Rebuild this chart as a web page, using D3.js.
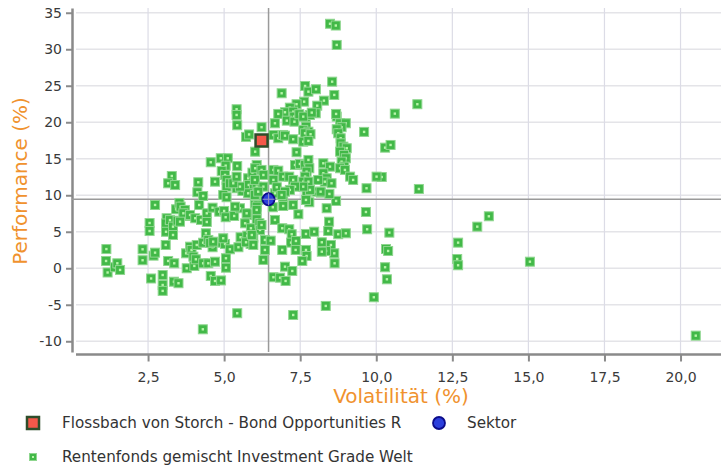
<!DOCTYPE html>
<html>
<head>
<meta charset="utf-8">
<script src="https://cdn.jsdelivr.net/npm/d3@7"></script>
<style>
body { margin: 0; background: #fff; }
text { font-family: "DejaVu Sans", Verdana, sans-serif; }
</style>
</head>
<body>
<div id="chart"></div>
<script>
// peer group (volatility %, performance %)
var peerVol = [
  1.13,1.12,1.17,1.41,1.49,1.58,2.32,2.32,2.55,2.55,2.6,2.68,2.73,2.73,
  2.98,2.98,2.98,3.08,3.16,3.36,3.35,3.5,3.11,3.09,3.09,3.22,3.32,3.32,3.42,3.47,3.53,3.57,3.71,3.82,3.28,3.16,3.39,3.66,3.88,3.55,
  3.77,4.02,3.75,3.88,3.93,3.99,4.1,4.07,4.05,4.15,4.12,4.18,4.31,
  4.24,4.43,4.43,4.62,4.84,5.0,5.05,4.31,4.4,4.48,4.31,4.48,4.7,4.62,4.54,4.56,4.7,4.9,4.94,5.03,5.06,5.06,4.3,5.43,4.64,
  4.56,4.7,4.89,5.12,5.05,5.43,4.92,5.03,5.08,5.08,5.19,4.97,5.08,
  5.33,5.52,5.76,5.69,6.07,4.97,5.19,5.47,5.54,5.76,5.87,5.72,5.88,6.16,6.18,5.96,5.36,5.74,6.01,6.12,
  5.41,5.6,5.79,5.81,5.93,5.94,5.98,6.07,6.05,6.07,6.02,5.79,5.52,5.3,5.41,
  5.41,5.41,5.43,5.72,5.82,6.23,
  6.01,6.07,6.07,6.23,5.91,5.96,6.34,6.34,6.53,6.29,
  6.6,6.94,7.27,7.44,7.8,8.37,8.68,7.71,8.18,8.46,6.94,6.67,7.69,8.04,
  6.67,6.91,7.14,7.22,7.2,7.36,7.35,6.91,7.69,7.96,8.21,8.45,8.42,8.75,9.0,8.51,8.62,8.35,8.21,7.69,7.71,7.57,8.63,
  7.0,7.24,6.62,6.84,7.02,9.66,9.7,9.92,8.34,7.27,10.43,10.32,10.39,10.29,10.35,
  8.48,8.67,8.7,8.55,8.62,7.66,7.77,8.02,6.89,8.28,7.63,8.06,8.01,
  7.38,7.16,7.0,6.78,7.27,7.3,7.06,7.31,6.67,7.47,7.68,7.82,7.6,7.88,
  8.7,8.68,8.81,9.0,8.86,8.7,8.75,8.83,8.83,8.92,9.03,8.81,8.94,9.0,8.86,8.95,8.81,8.97,9.14,9.24,9.68,9.6,
  10.61,11.35,10.29,10.47,10.18,10.01,11.4,13.7,13.32,12.69,12.66,12.69,15.05,20.5,
  8.26,8.48,8.26,8.37,8.31,8.53,8.17,8.09,
  7.69,7.6,7.77,7.66,7.84,7.6,7.77,
  7.33,7.49,7.66,7.77,7.8,7.71,7.66,7.6,7.77,7.82,7.6,
  6.62,6.78,6.94,7.0,7.27,7.38,
  6.02,6.23,6.29,6.62,6.78,6.62,6.73,6.94,7.14,7.27,7.33,7.16,7.0,6.89,6.01,6.29,6.12
];
var peerPerf = [
  2.63,1.0,-0.58,0.14,0.68,-0.23,2.6,1.1,6.2,5.1,-1.4,1.73,2.14,8.67,
  -0.92,-2.29,-3.1,3.19,1.0,0.68,-1.84,-2.05,6.85,6.14,5.0,6.6,5.7,4.56,8.08,6.52,8.95,8.44,7.99,7.16,12.64,11.64,11.4,7.53,7.3,6.38,
  0.0,0.32,2.05,2.96,2.5,1.59,3.19,1.23,6.85,11.78,10.41,8.67,9.9,
  6.62,7.53,6.34,8.3,7.75,7.85,6.99,3.5,4.79,3.88,0.68,0.68,0.9,2.88,3.47,-1.05,-1.74,-1.67,3.5,3.33,1.37,0.08,-8.36,-6.16,3.64,
  14.52,11.86,15.07,15.07,14.05,14.01,13.33,12.78,12.1,11.18,11.64,10.04,9.73,
  7.16,8.22,7.3,6.16,6.71,4.11,2.6,2.88,4.25,4.47,3.33,3.56,5.48,6.16,5.25,4.19,8.44,7.53,8.9,9.36,
  10.96,10.59,12.33,11.41,13.1,10.27,10.86,11.18,9.9,14.15,15.97,10.27,11.18,11.64,12.55,
  21.78,21.0,19.59,18.0,18.33,19.32,
  10.04,8.44,7.99,5.93,4.56,3.19,3.88,2.51,3.78,1.14,
  8.36,8.53,8.67,7.4,9.04,8.22,9.22,10.36,10.36,10.18,9.81,10.27,9.36,10.49,
  6.62,5.48,5.34,4.66,3.51,3.74,2.51,2.51,4.7,5.01,3.56,6.38,5.11,4.66,4.79,3.19,2.05,2.37,2.27,2.51,1.68,1.0,0.68,
  0.22,-0.37,-1.23,-1.29,-1.74,7.71,5.34,-3.97,-5.16,-6.4,4.88,2.64,2.37,0.14,-1.51,
  33.49,33.25,30.59,25.56,23.74,24.97,24.19,24.52,23.97,22.96,22.82,22.27,21.23,
  22.47,22.0,21.37,21.14,21.45,20.77,20.22,20.08,19.86,21.1,20.68,21.0,20.77,21.32,
  20.77,21.14,19.86,19.86,19.32,19.04,18.49,17.81,17.12,16.66,16.44,15.97,15.52,15.07,14.6,13.92,13.7,13.47,12.55,12.1,10.96,18.68,
  21.18,22.47,16.52,16.89,12.5,12.55,10.86,7.12,5.7,3.51,1.27,0.41,0.9,-9.23,
  14.38,13.92,13.01,12.33,11.86,11.64,10.49,12.1,
  19.4,18.95,18.71,18.49,18.36,17.34,17.44,
  14.15,14.29,14.15,14.84,13.7,13.23,12.55,11.86,11.86,10.73,11.18,
  18.26,17.81,18.26,18.16,17.67,15.89,
  13.7,13.47,12.78,13.47,13.37,12.1,11.1,12.55,12.55,12.1,11.18,10.73,10.49,10.04,12.1,11.18,10.49
];
var peerName = 'Rentenfonds gemischt Investment Grade Welt';
var fundName = 'Flossbach von Storch - Bond Opportunities R';
var fundVol = 6.23, fundPerf = 17.5;
var sectorName = 'Sektor';
var sectorVol = 6.46, sectorPerf = 9.45;
var xTicks = [2.5, 5, 7.5, 10, 12.5, 15, 17.5, 20];
var yTicks = [-10, -5, 0, 5, 10, 15, 20, 25, 30, 35];

var width = 721, height = 466;
var svg = d3.select('#chart').append('svg')
    .attr('width', width)
    .attr('height', height);

var x = d3.scaleLinear().domain([0, 21.33]).range([72, 721]);
var y = d3.scaleLinear().domain([-11.47, 35.65]).range([352, 8]);

// grid
var grid = svg.append('g');
grid.selectAll('.hg').data(yTicks).enter().append('line')
    .attr('x1', 76).attr('x2', 721)
    .attr('y1', d => y(d)).attr('y2', d => y(d))
    .attr('stroke', '#e4e4e8').attr('stroke-width', 1.5);
grid.selectAll('.vg').data(xTicks).enter().append('line')
    .attr('x1', d => x(d)).attr('x2', d => x(d))
    .attr('y1', 8).attr('y2', 354)
    .attr('stroke', '#dcdce6').attr('stroke-width', 1.2);

// axes
var yAxis = svg.append('g').attr('transform', 'translate(72,0)')
    .call(d3.axisLeft(y).tickValues(yTicks).tickSize(6).tickSizeOuter(0).tickPadding(4)
        .tickFormat(d => String(d)));
var xAxis = svg.append('g').attr('transform', 'translate(0,354.5)')
    .call(d3.axisBottom(x).tickValues(xTicks).tickSize(7).tickSizeOuter(0).tickPadding(11)
        .tickFormat(d => d3.format('.1f')(d).replace('.', ',')));
xAxis.select('.domain').attr('d', 'M76,0H721');
[xAxis, yAxis].forEach(a => {
    a.select('.domain').attr('stroke', '#8a8a8a').attr('stroke-width', 2.5);
    a.selectAll('.tick line').attr('stroke', '#8a8a8a').attr('stroke-width', 2);
    a.selectAll('.tick text').attr('fill', '#3a3a3a').style('font-size', '14px')
        .style('font-family', '"DejaVu Sans", Verdana, sans-serif');
});

// crosshair at sector
var cross = svg.append('g');
cross.append('line')
    .attr('x1', 72).attr('x2', 721)
    .attr('y1', y(sectorPerf)).attr('y2', y(sectorPerf))
    .attr('stroke', '#9a9a9a').attr('stroke-width', 1.5);
cross.append('line')
    .attr('x1', x(sectorVol)).attr('x2', x(sectorVol))
    .attr('y1', 8).attr('y2', 352)
    .attr('stroke', '#9a9a9a').attr('stroke-width', 1.5);

// peer points
function peerMark(g, cx, cy) {
    g.append('rect').attr('x', cx - 4.5).attr('y', cy - 4.5).attr('width', 9).attr('height', 9)
        .attr('fill', '#42b948').attr('stroke', '#8fd68f').attr('stroke-width', 1);
    g.append('rect').attr('x', cx - 1.2).attr('y', cy - 1.2).attr('width', 2.4).attr('height', 2.4)
        .attr('fill', '#b8f5aa');
}
var peers = svg.append('g');
peerVol.forEach((v, i) => {
    peerMark(peers.append('g'), x(v), y(peerPerf[i]));
});

// sector
svg.append('circle')
    .attr('cx', x(sectorVol)).attr('cy', y(sectorPerf)).attr('r', 6)
    .attr('fill', '#2b3fdc').attr('stroke', '#0c0c8a').attr('stroke-width', 1.8);
svg.append('line')
    .attr('x1', x(sectorVol) - 6).attr('x2', x(sectorVol) + 6)
    .attr('y1', y(sectorPerf)).attr('y2', y(sectorPerf))
    .attr('stroke', '#8888c8').attr('stroke-width', 1.2);
svg.append('line')
    .attr('x1', x(sectorVol)).attr('x2', x(sectorVol))
    .attr('y1', y(sectorPerf) - 6).attr('y2', y(sectorPerf) + 6)
    .attr('stroke', '#8888c8').attr('stroke-width', 1.2);

// fund
svg.append('rect')
    .attr('x', x(fundVol) - 6).attr('y', y(fundPerf) - 6).attr('width', 12).attr('height', 12)
    .attr('fill', '#f4584a').attr('stroke', '#2e4d2a').attr('stroke-width', 2.5);

// axis titles
svg.append('text').text('Volatilität (%)')
    .attr('x', 401).attr('y', 403).attr('text-anchor', 'middle')
    .attr('fill', '#f0922e').style('font-size', '20px');
svg.append('text').text('Performance (%)')
    .attr('transform', 'translate(27,181) rotate(-90)').attr('text-anchor', 'middle')
    .attr('fill', '#f0922e').style('font-size', '20px');

// legend
var legend = svg.append('g');
legend.append('rect').attr('x', 27).attr('y', 417).attr('width', 12).attr('height', 12)
    .attr('fill', '#f4584a').attr('stroke', '#2e4d2a').attr('stroke-width', 2.5);
legend.append('text').text(fundName).attr('x', 62).attr('y', 428)
    .attr('fill', '#333').style('font-size', '15.2px');
legend.append('circle').attr('cx', 439).attr('cy', 423).attr('r', 6)
    .attr('fill', '#2b3fdc').attr('stroke', '#0c0c8a').attr('stroke-width', 1.8);
legend.append('text').text(sectorName).attr('x', 467).attr('y', 428)
    .attr('fill', '#333').style('font-size', '15.2px');
var lg = legend.append('g');
lg.append('rect').attr('x', 29.5).attr('y', 453.5).attr('width', 7).attr('height', 7)
    .attr('fill', '#42b948').attr('stroke', '#8fd68f').attr('stroke-width', 1);
lg.append('rect').attr('x', 32).attr('y', 456).attr('width', 2).attr('height', 2).attr('fill', '#b8f5aa');
legend.append('text').text(peerName).attr('x', 62).attr('y', 462)
    .attr('fill', '#333').style('font-size', '15.2px');
</script>
</body>
</html>
